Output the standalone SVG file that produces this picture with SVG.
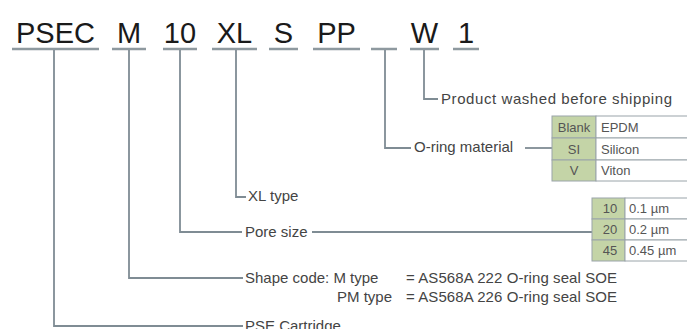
<svg xmlns="http://www.w3.org/2000/svg" width="687" height="329" viewBox="0 0 687 329">
<style>
.code{font-family:"Liberation Sans",Arial,sans-serif;font-size:29px;fill:#1a1a1a;text-anchor:middle}
.ul{stroke:#8e999f;stroke-width:2.5}
.lbl{font-family:"Liberation Sans",Arial,sans-serif;font-size:15px;fill:#444444}
.tt{font-family:"Liberation Sans",Arial,sans-serif;font-size:13px;fill:#555555}
.c{text-anchor:middle}
.conn{fill:none;stroke:#7f8c94;stroke-width:1.8}
.g{fill:#c4d4a7;stroke:#9aa4a9;stroke-width:1}
.w{fill:#ffffff;stroke:#9aa4a9;stroke-width:1}
</style>
<rect width="687" height="329" fill="#ffffff"/>
<g id="code">
<text class="code" x="55.5" y="43">PSEC</text>
<text class="code" x="129" y="43">M</text>
<text class="code" x="180" y="43">10</text>
<text class="code" x="234.5" y="43">XL</text>
<text class="code" x="283.5" y="43">S</text>
<text class="code" x="336.5" y="43">PP</text>
<text class="code" x="424.5" y="43">W</text>
<text class="code" x="466" y="43">1</text>
<line class="ul" x1="12" y1="49" x2="99" y2="49"/>
<line class="ul" x1="112" y1="49" x2="146" y2="49"/>
<line class="ul" x1="163" y1="49" x2="197" y2="49"/>
<line class="ul" x1="212" y1="49" x2="257" y2="49"/>
<line class="ul" x1="269" y1="49" x2="298" y2="49"/>
<line class="ul" x1="313" y1="49" x2="360" y2="49"/>
<line class="ul" x1="371" y1="49" x2="397" y2="49"/>
<line class="ul" x1="410" y1="49" x2="439" y2="49"/>
<line class="ul" x1="453" y1="49" x2="479" y2="49"/>
</g>
<g id="connectors">
<polyline class="conn" points="424,50 424,99 438,99"/>
<polyline class="conn" points="385,50 385,148 411,148"/>
<line class="conn" x1="525" y1="148" x2="552" y2="148"/>
<polyline class="conn" points="236,50 236,197 246,197"/>
<polyline class="conn" points="180,50 180,232 242,232"/>
<line class="conn" x1="312" y1="232" x2="592" y2="232"/>
<polyline class="conn" points="129,50 129,278 243,278"/>
<polyline class="conn" points="54,50 54,326 243,326"/>
</g>
<g id="washed">
<text class="lbl" x="441" y="104" textLength="231" lengthAdjust="spacing">Product washed before shipping</text>
</g>
<g id="oring">
<text class="lbl" x="414" y="152">O-ring material</text>
<rect class="g" x="552" y="116" width="44" height="22"/>
<rect class="w" x="596" y="116" width="95" height="22"/>
<rect class="g" x="552" y="138" width="44" height="22"/>
<rect class="w" x="596" y="138" width="95" height="22"/>
<rect class="g" x="552" y="160" width="44" height="21"/>
<rect class="w" x="596" y="160" width="95" height="21"/>
<text class="tt c" x="574" y="132">Blank</text>
<text class="tt" x="601" y="132">EPDM</text>
<text class="tt c" x="574" y="154">SI</text>
<text class="tt" x="601" y="154">Silicon</text>
<text class="tt c" x="574" y="175">V</text>
<text class="tt" x="601" y="175">Viton</text>
</g>
<g id="xl">
<text class="lbl" x="248" y="201">XL type</text>
</g>
<g id="pore">
<text class="lbl" x="245" y="237">Pore size</text>
<rect class="g" x="592" y="198" width="33" height="21"/>
<rect class="w" x="625" y="198" width="66" height="21"/>
<rect class="g" x="592" y="219" width="33" height="21"/>
<rect class="w" x="625" y="219" width="66" height="21"/>
<rect class="g" x="592" y="240" width="33" height="21"/>
<rect class="w" x="625" y="240" width="66" height="21"/>
<text class="tt c" x="610" y="213">10</text>
<text class="tt" x="629" y="213">0.1 µm</text>
<text class="tt c" x="610" y="234">20</text>
<text class="tt" x="629" y="234">0.2 µm</text>
<text class="tt c" x="610" y="255">45</text>
<text class="tt" x="629" y="255">0.45 µm</text>
</g>
<g id="shape">
<text class="lbl" x="245" y="283">Shape code: M type</text>
<text class="lbl" x="406" y="283" textLength="211" lengthAdjust="spacing">= AS568A 222 O-ring seal SOE</text>
<text class="lbl" x="337" y="302">PM type</text>
<text class="lbl" x="406" y="302" textLength="211" lengthAdjust="spacing">= AS568A 226 O-ring seal SOE</text>
</g>
<g id="pse">
<text class="lbl" x="245" y="331">PSE Cartridge</text>
</g>
</svg>
